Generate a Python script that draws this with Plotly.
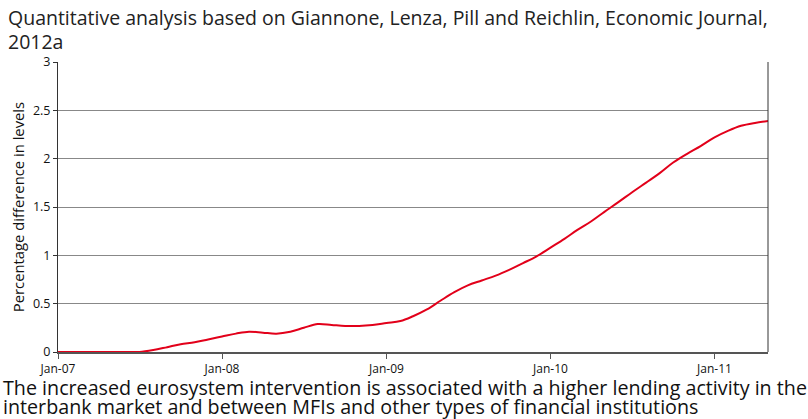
import plotly.graph_objects as go
import pandas as pd

pct_diff = [0, 0, 0, 0, 0, 0, 0, 0.02, 0.05, 0.08, 0.10, 0.13,
            0.16, 0.19, 0.21, 0.20, 0.19, 0.21, 0.25, 0.29, 0.28, 0.27, 0.27, 0.28,
            0.30, 0.32, 0.37, 0.44, 0.53, 0.62, 0.69, 0.74, 0.79, 0.85, 0.92, 0.99,
            1.08, 1.17, 1.26, 1.35, 1.45, 1.55, 1.65, 1.75, 1.85, 1.96, 2.05, 2.13,
            2.22, 2.29, 2.34, 2.37, 2.39]
months = pd.date_range("2007-01-01", periods=len(pct_diff), freq="MS")
tick_dates = ["2007-01-01", "2008-01-01", "2009-01-01", "2010-01-01", "2011-01-01"]
tick_text = ["Jan-07", "Jan-08", "Jan-09", "Jan-10", "Jan-11"]

title_lines = ["Quantitative analysis based on Giannone, Lenza, Pill and Reichlin, Economic Journal,",
               "2012a"]
caption_lines = ["The increased eurosystem intervention is associated with a higher lending activity in the",
                 "interbank market and between MFIs and other types of financial institutions"]

fig = go.Figure(go.Scatter(x=months, y=pct_diff, mode="lines", line_shape="spline",
                           line=dict(color="#e2001a", width=2)))

notes = []
for i, txt in enumerate(title_lines):
    # title lines sit above the plot area (top of plot = paper y 1)
    notes.append(dict(text=txt, x=0, y=1, xref="paper", yref="paper", xanchor="left",
                      yanchor="middle", showarrow=False, font=dict(size=19.5, color="#222"),
                      xshift=-52, yshift=45 - 24 * i))
for i, txt in enumerate(caption_lines):
    notes.append(dict(text=txt, x=0, y=0, xref="paper", yref="paper", xanchor="left",
                      yanchor="middle", showarrow=False, font=dict(size=19.7, color="#111"),
                      xshift=-57, yshift=-35 - 19 * i))

fig.update_layout(
    width=808, height=419, paper_bgcolor="white", plot_bgcolor="white",
    margin=dict(l=58, r=40, t=62, b=67), showlegend=False,
    font=dict(family="Open Sans, DejaVu Sans", color="#111"),
    xaxis=dict(range=["2007-01-01", "2011-04-30"], tickvals=tick_dates, ticktext=tick_text,
               showgrid=False, showline=True, linecolor="#555", linewidth=2, mirror=False,
               ticks="outside", ticklen=5, tickcolor="#555", tickfont=dict(size=12)),
    yaxis=dict(range=[0, 3], dtick=0.5, showgrid=True, gridcolor="#888", gridwidth=1,
               showline=True, linecolor="#333", linewidth=1, ticks="outside", ticklen=4,
               tickcolor="#333", tickfont=dict(size=12.5), zeroline=False, automargin=False,
               title=dict(text="Percentage difference in levels", font=dict(size=14.8), standoff=4)),
    annotations=notes,
    shapes=[dict(type="line", xref="paper", yref="paper", x0=1, x1=1, y0=0, y1=1,
                 line=dict(color="#333", width=1))],
)

fig.write_html("out.html", config={"displayModeBar": False},
               post_script="document.body.style.margin='0';")
